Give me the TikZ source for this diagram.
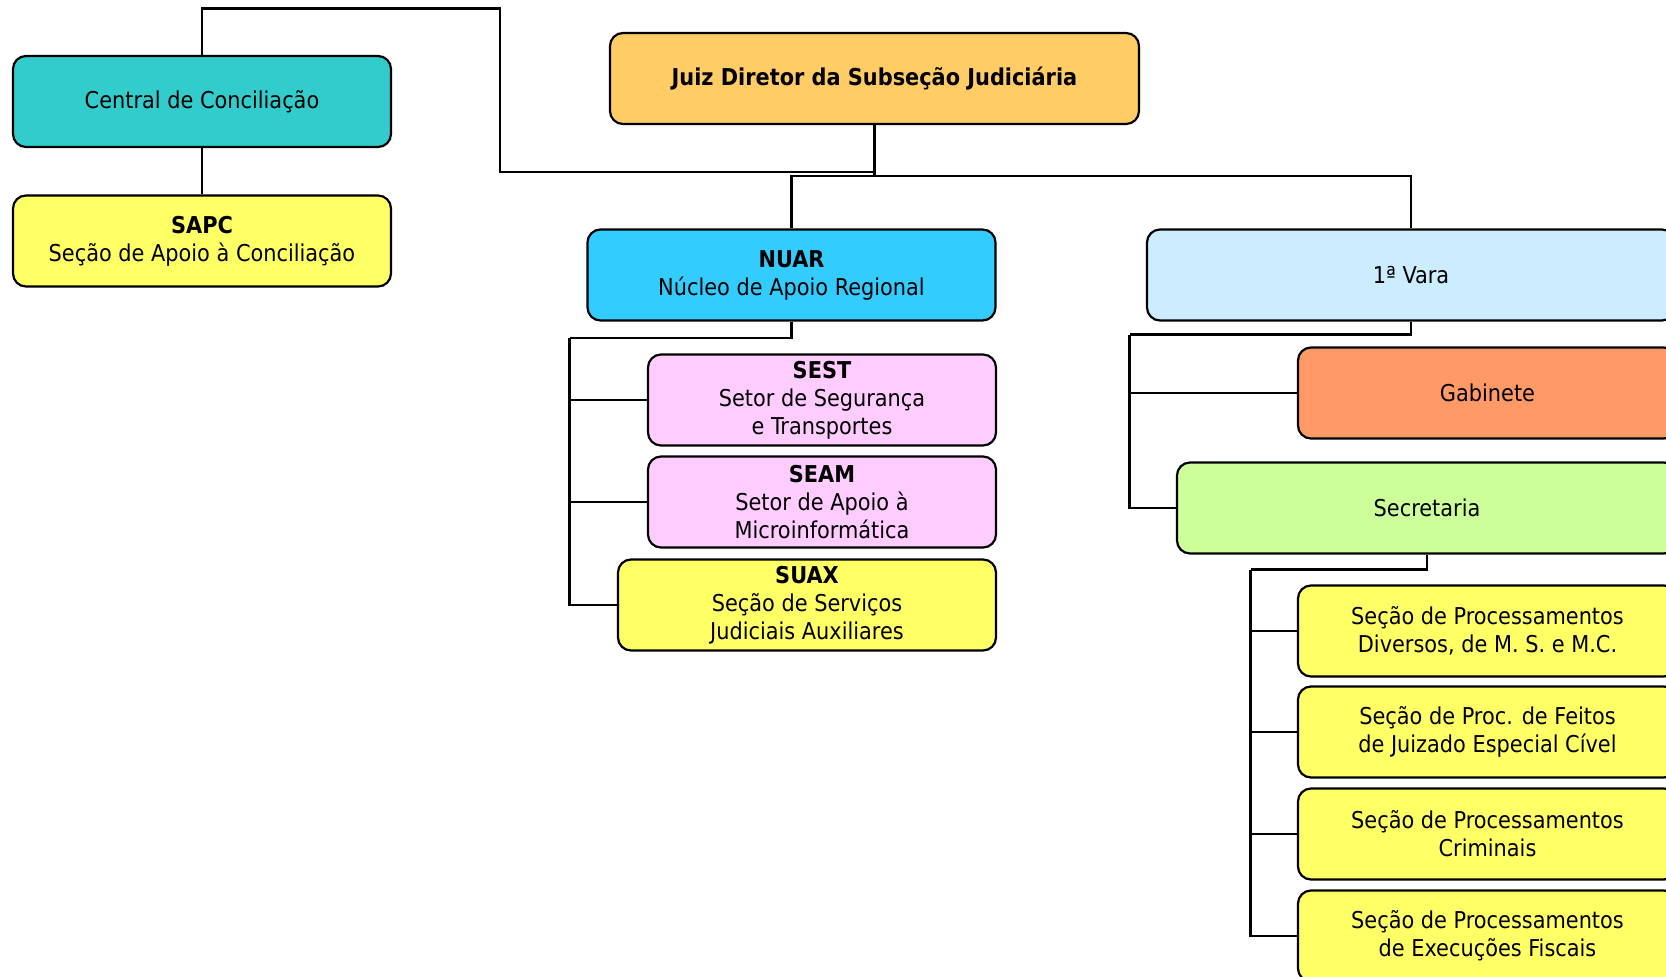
\documentclass[tikz,border=0pt]{standalone}
\usepackage{fontspec}
\setmainfont{DejaVu Sans Condensed}
\usepackage{tikz}
\usetikzlibrary{positioning,calc}
\definecolor{conc}{HTML}{33CCCC}
\definecolor{amar}{HTML}{FFFF66}
\definecolor{dir}{HTML}{FFCC66}
\definecolor{nucleo}{HTML}{33CCFF}
\definecolor{setor}{HTML}{FFCCFF}
\definecolor{vara}{HTML}{CCECFF}
\definecolor{gab}{HTML}{FF9966}
\definecolor{secr}{HTML}{CCFF99}

\begin{document}
\begin{tikzpicture}[x=1pt,y=-1pt,
  box/.style={draw,line width=2.2pt,rounded corners=13pt,minimum height=91pt,
    inner sep=0pt,align=center,font=\fontsize{23.2}{28}\selectfont},
  link/.style={line width=2.2pt}]
  \useasboundingbox (0,0) rectangle (1666,977);
  \clip (0,0) rectangle (1666,977);

  % Direcao e conciliacao
  \node[box,fill=dir,minimum width=529pt] (juiz) at (874.5,78.5) {\textbf{Juiz Diretor da Subseção Judiciária}};
  \node[box,fill=conc,minimum width=378pt] (cc) at (202,101.5) {Central de Conciliação};
  \node[box,fill=amar,minimum width=378pt] (sapc) at (202,241) {\textbf{SAPC}\\Seção de Apoio à Conciliação};

  % Nucleo regional
  \node[box,fill=nucleo,minimum width=408pt] (nuar) at (791.5,275) {\textbf{NUAR}\\Núcleo de Apoio Regional};
  \node[box,fill=setor,minimum width=348pt] (sest) at (822,400) {\textbf{SEST}\\Setor de Segurança\\e Transportes};
  \node[box,fill=setor,minimum width=348pt] (seam) at (822,502) {\textbf{SEAM}\\Setor de Apoio à\\Microinformática};
  \node[box,fill=amar,minimum width=378pt] (suax) at (807,605) {\textbf{SUAX}\\Seção de Serviços\\Judiciais Auxiliares};

  % Vara
  \node[box,fill=vara,minimum width=528pt] (vara) at (1411,275) {1ª Vara};
  \node[box,fill=gab,minimum width=379pt] (gabi) at (1487.5,393) {Gabinete};
  \node[box,fill=secr,minimum width=500pt] (sect) at (1427,508) {Secretaria};
  \node[box,fill=amar,minimum width=379pt] (proc1) at (1487.5,631) {Seção de Processamentos\\Diversos, de M. S. e M.C.};
  \node[box,fill=amar,minimum width=379pt] (proc2) at (1487.5,732) {Seção de Proc. de Feitos\\de Juizado Especial Cível};
  \node[box,fill=amar,minimum width=379pt] (proc3) at (1487.5,834) {Seção de Processamentos\\Criminais};
  \node[box,fill=amar,minimum width=379pt] (proc4) at (1487.5,936) {Seção de Processamentos\\de Execuções Fiscais};

  % Barramentos
  \coordinate (topo) at (500,8.5);
  \coordinate (jesq) at (874.5,172);
  \coordinate (jbus) at (874.5,176);
  \coordinate (nbus) at (569.5,338);
  \coordinate (vbus) at (1129.5,334.5);
  \coordinate (sbus) at (1250.5,569.5);

  \draw[link] (cc.north) |- (topo) |- (jesq);
  \draw[link] (cc.south) -- (sapc.north);
  \draw[link] (juiz.south) -- (jbus);
  \draw[link] (nuar.north) |- (jbus) -| (vara.north);

  \draw[link] (nuar.south) |- (nbus);
  \foreach \n in {sest,seam,suax} {
    \draw[link] (nbus) |- (\n.west);
  }
  \draw[link] (vara.south) |- (vbus);
  \foreach \n in {gabi,sect} {
    \draw[link] (vbus) |- (\n.west);
  }
  \draw[link] (sect.south) |- (sbus);
  \foreach \n in {proc1,proc2,proc3,proc4} {
    \draw[link] (sbus) |- (\n.west);
  }
\end{tikzpicture}
\end{document}
